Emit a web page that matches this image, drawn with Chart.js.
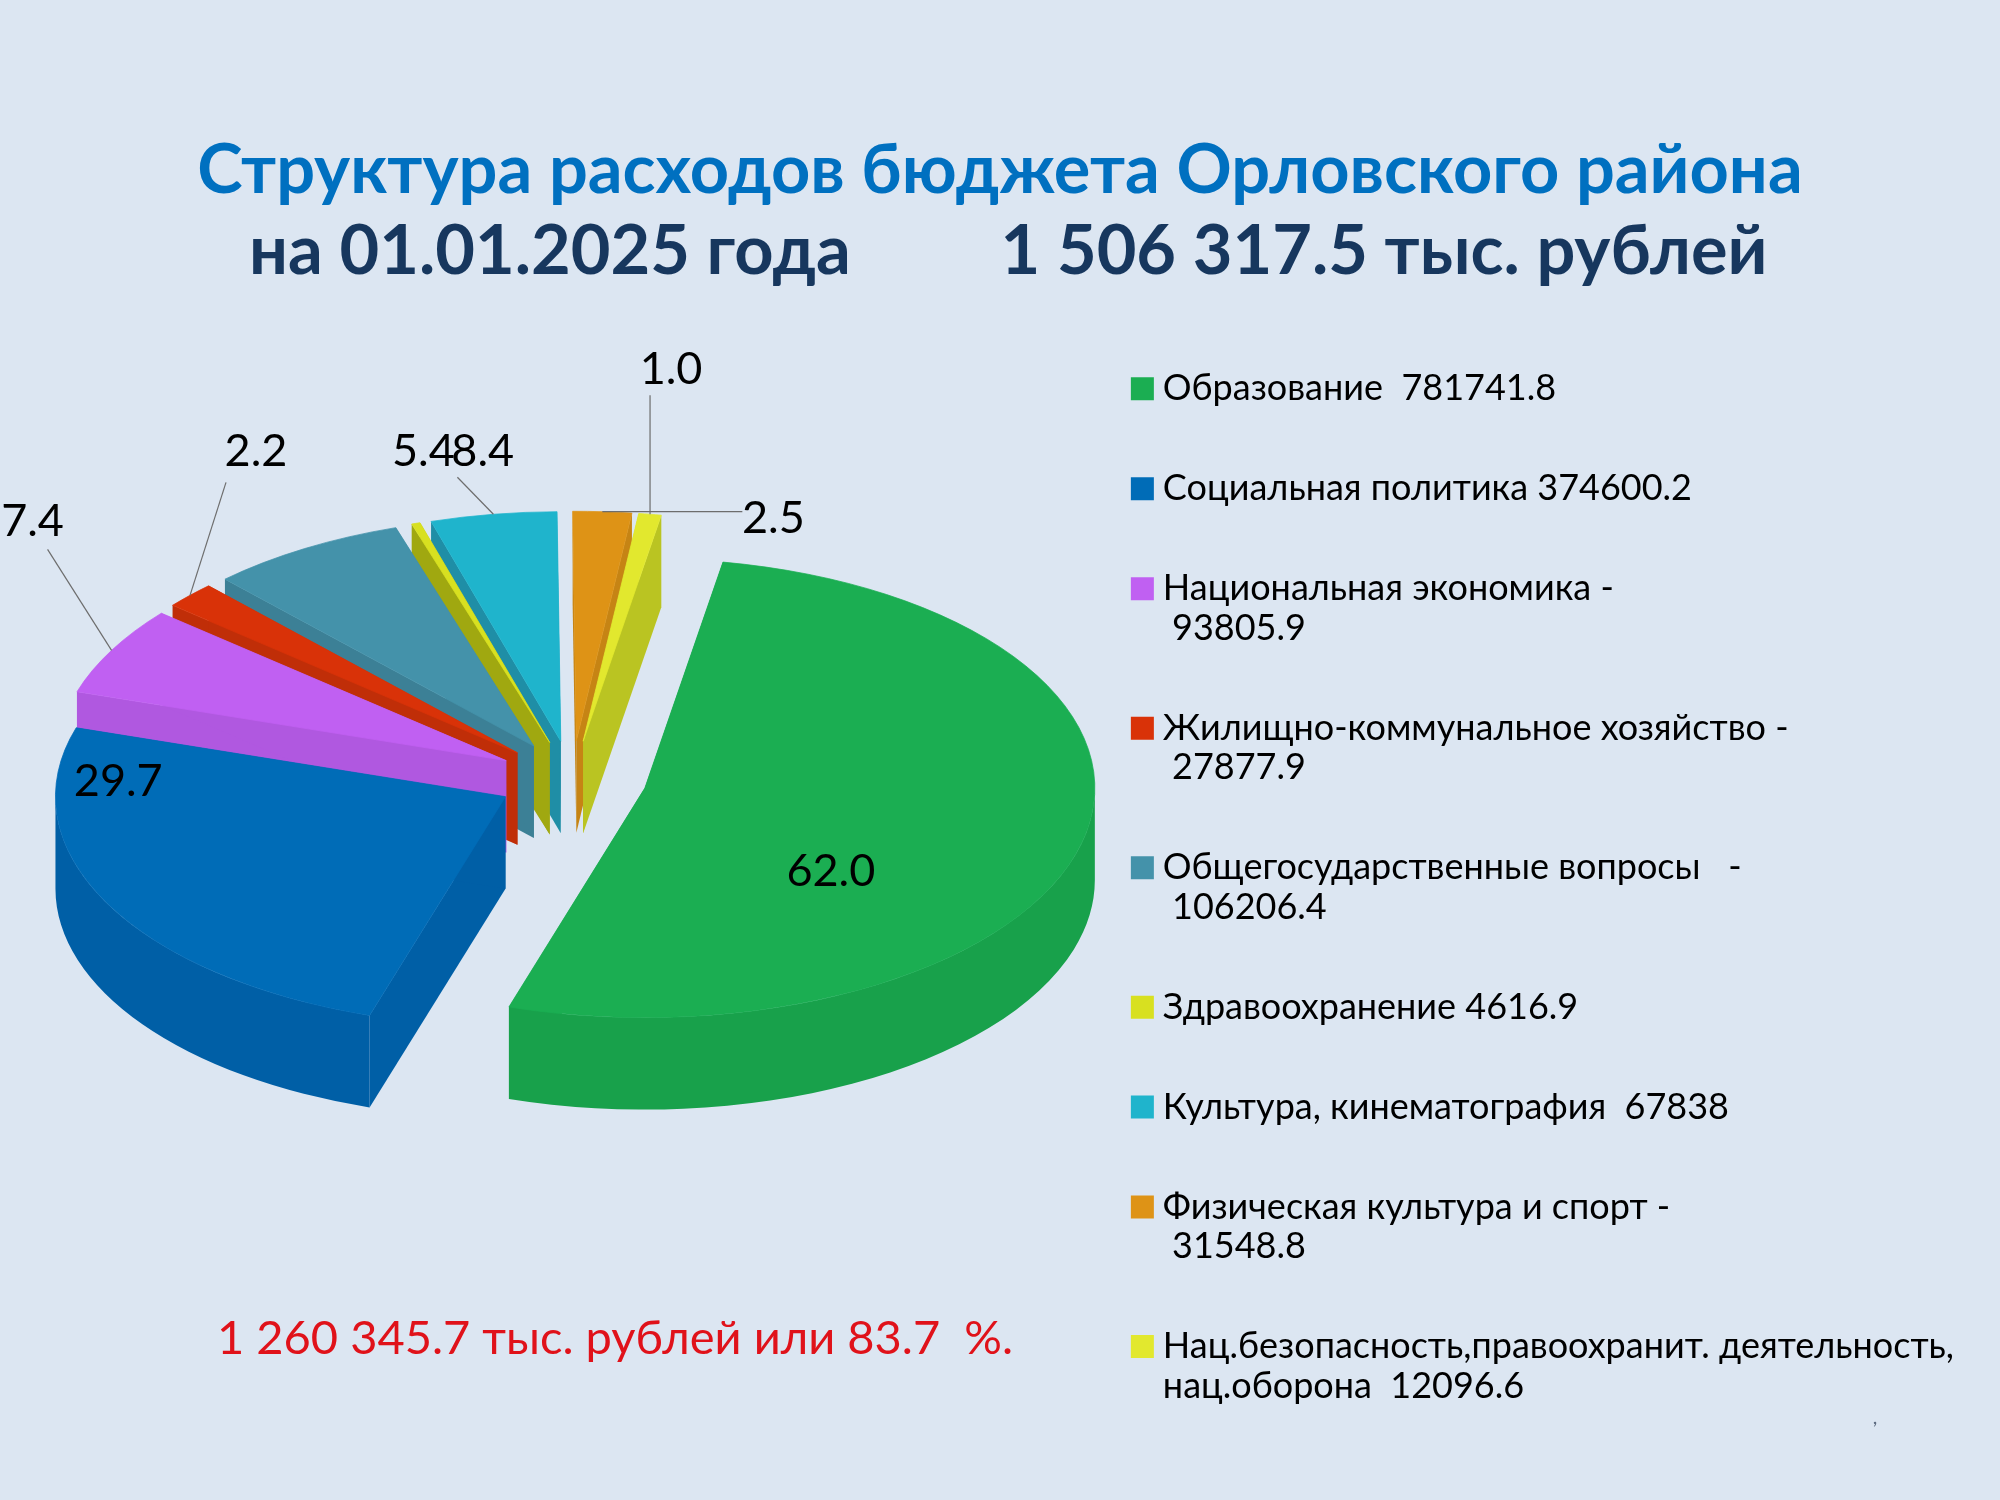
<!DOCTYPE html>
<html lang="ru">
<head>
<meta charset="utf-8">
<title>Структура расходов бюджета</title>
<script src="https://cdn.jsdelivr.net/npm/chart.js@4"></script>
<style>
  html, body { margin: 0; padding: 0; background: #dce6f2; }
  canvas { display: block; }
</style>
</head>
<body>
<canvas id="pie" width="2000" height="1500"></canvas>
<script>
const FONT = 'Lato, Carlito, "Noto Sans", sans-serif';

// Chart data
const legendLabels = [
  ['Образование  781741.8'],
  ['Социальная политика 374600.2'],
  ['Национальная экономика -', ' 93805.9'],
  ['Жилищно-коммунальное хозяйство -', ' 27877.9'],
  ['Общегосударственные вопросы   -', ' 106206.4'],
  ['Здравоохранение 4616.9'],
  ['Культура, кинематография  67838'],
  ['Физическая культура и спорт -', ' 31548.8'],
  ['Нац.безопасность,правоохранит. деятельность,', 'нац.оборона  12096.6']
];
const expenses = [781741.8, 374600.2, 93805.9, 27877.9, 106206.4, 4616.9, 67838, 31548.8, 12096.6];
const percentLabels = ['62.0', '29.7', '7.4', '2.2', '8.4', '', '5.4', '2.5', '1.0'];

// Slice colours: top face and side walls
const topColors = ['#1bae52', '#006cb7', '#c060f2', '#d93208', '#4492aa', '#d8e020', '#1fb4cc', '#de9316', '#e2e82e'];
const wallColors = ['#18a14b', '#005fa6', '#b058e0', '#c02e08', '#3c8096', '#a0a810', '#1f8ea6', '#c68414', '#bac422'];

// 3D look
const PIE_X = 572, PIE_Y = 779;
const RADIUS = 450;
const EXPLODE = 75;
const TILT = 0.51;
const DEPTH = 92;

// Label offsets from the middle of each slice's outer edge
const labelOffsets = [[-251, 29], [12, -121], [-79, -128.5], [66, -143.5], [178, -97], [0, 0], [-70, -63], [171, 7], [21, -145]];
const leaderOffsets = [null, null, [-64, -101], [36, -113], null, null, [-36, -37], [140, 0], [0, -119]];

function apexOf(arc) {
  const mid = (arc.startAngle + arc.endAngle) / 2;
  return { x: arc.x + EXPLODE * Math.cos(mid), y: arc.y + EXPLODE * Math.sin(mid) * TILT, mid };
}

function drawWall(ctx, apex, angle, color) {
  const ex = apex.x + RADIUS * Math.cos(angle);
  const ey = apex.y + RADIUS * TILT * Math.sin(angle);
  ctx.fillStyle = color;
  ctx.beginPath();
  ctx.moveTo(ex, ey);
  ctx.lineTo(apex.x, apex.y);
  ctx.lineTo(apex.x, apex.y + DEPTH);
  ctx.lineTo(ex, ey + DEPTH);
  ctx.closePath();
  ctx.fill();
}

function drawRim(ctx, apex, arc, color) {
  const from = Math.max(arc.startAngle, 0);
  const to = Math.min(arc.endAngle, Math.PI);
  if (from >= to) return;
  ctx.beginPath();
  ctx.ellipse(apex.x, apex.y, RADIUS, RADIUS * TILT, 0, from, to);
  ctx.ellipse(apex.x, apex.y + DEPTH, RADIUS, RADIUS * TILT, 0, to, from, true);
  ctx.closePath();
  ctx.fillStyle = color;
  ctx.fill();
}

const pie3d = {
  id: 'pie3d',
  // Put the pie where it belongs, whatever room the title and legend left
  afterLayout(chart) {
    const a = chart.chartArea;
    a.left = PIE_X - 600; a.right = PIE_X + 600;
    a.top = PIE_Y - 600; a.bottom = PIE_Y + 600;
    a.width = 1200; a.height = 1200;
  },
  // Draw slices back to front, tilted, each on top of its own walls
  beforeDatasetsDraw(chart) {
    const ctx = chart.ctx;
    const arcs = chart.getDatasetMeta(0).data;
    const order = arcs.map((arc, i) => i).sort((p, q) => {
      return Math.sin((arcs[p].startAngle + arcs[p].endAngle) / 2) - Math.sin((arcs[q].startAngle + arcs[q].endAngle) / 2);
    });
    order.forEach(i => {
      const arc = arcs[i];
      const apex = apexOf(arc);
      drawWall(ctx, apex, arc.startAngle, wallColors[i]);
      drawWall(ctx, apex, arc.endAngle, wallColors[i]);
      drawRim(ctx, apex, arc, wallColors[i]);
      ctx.save();
      ctx.translate(apex.x, apex.y);
      ctx.scale(1, TILT);
      ctx.translate(-arc.x, -arc.y);
      arc.draw(ctx);
      ctx.restore();
    });
    return false;
  },
  afterDraw(chart) {
    const ctx = chart.ctx;
    const arcs = chart.getDatasetMeta(0).data;
    ctx.save();
    arcs.forEach((arc, i) => {
      if (!percentLabels[i]) return;
      const apex = apexOf(arc);
      const ax = apex.x + RADIUS * Math.cos(apex.mid);
      const ay = apex.y + RADIUS * TILT * Math.sin(apex.mid);
      if (leaderOffsets[i]) {
        ctx.strokeStyle = '#6d6d6d';
        ctx.lineWidth = 1.2;
        ctx.beginPath();
        ctx.moveTo(ax, ay);
        ctx.lineTo(ax + leaderOffsets[i][0], ay + leaderOffsets[i][1]);
        ctx.stroke();
      }
      ctx.fillStyle = '#000';
      ctx.font = '45px ' + FONT;
      ctx.textAlign = 'center';
      ctx.textBaseline = 'middle';
      ctx.fillText(percentLabels[i], ax + labelOffsets[i][0], ay + labelOffsets[i][1]);
    });
    ctx.textAlign = 'center';
    ctx.textBaseline = 'middle';
    ctx.fillStyle = '#e0121a';
    ctx.font = '47px ' + FONT;
    ctx.fillText('1 260 345.7 тыс. рублей или 83.7  %.', 615, 1339);
    ctx.fillStyle = '#5d6b80';
    ctx.font = '20px ' + FONT;
    ctx.fillText(',', 1875, 1418);
    ctx.restore();
  }
};

Chart.defaults.font.family = FONT;

new Chart(document.getElementById('pie'), {
  type: 'pie',
  data: {
    labels: legendLabels,
    datasets: [{
      data: expenses,
      backgroundColor: topColors,
      // same colour outline hides the seam against the walls
      borderColor: topColors,
      borderWidth: 1
    }]
  },
  plugins: [pie3d],
  options: {
    responsive: false,
    animation: false,
    events: [],
    devicePixelRatio: 1,
    rotation: 10,
    radius: RADIUS,
    layout: { padding: { left: 36, right: 36 } },
    plugins: {
      tooltip: { enabled: false },
      title: {
        display: true,
        text: 'Структура расходов бюджета Орловского района',
        color: '#0070c0',
        font: { size: 68.5, weight: 'bold', family: FONT, lineHeight: 1.19 },
        padding: { top: 130, bottom: 0 }
      },
      subtitle: {
        display: true,
        text: ' на 01.01.2025 года         1 506 317.5 тыс. рублей',
        color: '#17375e',
        font: { size: 68.5, weight: 'bold', family: FONT, lineHeight: 1.19 },
        padding: { top: 0, bottom: 17.5 }
      },
      legend: {
        position: 'right',
        align: 'start',
        fullSize: false,
        labels: {
          color: '#000',
          font: { size: 36, family: FONT, lineHeight: 1.1 },
          // a small box with a thick stroke keeps the text close to the marker
          boxWidth: 5,
          boxHeight: 5,
          padding: 60.3,
          generateLabels(chart) {
            return legendLabels.map((text, i) => ({
              text,
              fillStyle: topColors[i],
              strokeStyle: topColors[i],
              lineWidth: 18,
              index: i
            }));
          }
        }
      }
    }
  }
});
</script>
</body>
</html>
